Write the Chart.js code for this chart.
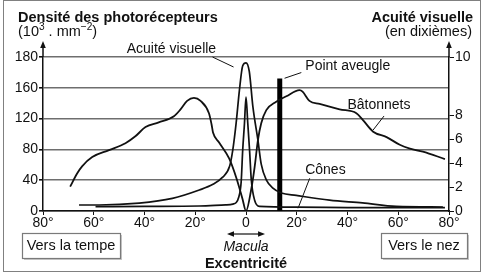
<!DOCTYPE html>
<html>
<head>
<meta charset="utf-8">
<script src="https://cdn.jsdelivr.net/npm/chart.js@4.4.1/dist/chart.umd.min.js"></script>
<style>
  html, body { margin: 0; padding: 0; background: #fff; }
  canvas { display: block; }
</style>
</head>
<body>
<canvas id="retine" width="486" height="275"></canvas>
<script>
// excentricité en degrés (négatif = côté tempe)
const angleTicks = [-80, -60, -40, -20, 0, 20, 40, 60, 80];
const densityTicks = [0, 40, 80, 120, 160, 180];
const acuityTicks = [0, 2, 4, 6, 8, 10];

// bâtonnets (10^3 . mm-2)
const rodsX = [-69.3, -66.5, -64.6, -60.6, -54, -47.5, -43.6, -39.6, -34.4, -28.4, -25.8, -23.2, -20.5, -17.9,
  -14.6, -13.6, -13, -10.6, -6.6, -3.7, -1.4, 0, 2, 3.4, 4.7, 6, 8, 11.9, 15.9, 21.1, 22.3, 25, 29, 36.9,
  43.5, 46.1, 50.1, 55.4, 60.6, 64.6, 69.7, 78.4];
const rodsY = [31.6, 49, 58, 70, 79, 88, 97, 109, 115, 123, 132, 143, 147, 143,
  127, 113, 102, 89, 68, 42, 16, 0, 27, 57, 92, 114, 131, 142, 149, 157, 155, 143, 139, 132,
  127, 118, 103, 96, 86, 81, 77, 67.5];

// cônes (10^3 . mm-2)
const conesX = [-59.3, -40, -18.4, -8, -5.2, -2.8, -1.9, -1.3, -0.6, 0, 0.7, 1.4, 2.1, 3.4, 5.3, 20, 40, 60, 78.4];
const conesY = [5.6, 6, 6.5, 8, 9, 18.6, 38, 79, 114, 148, 114, 79, 40, 14, 6, 5, 4.5, 4.3, 4.3];

// acuité visuelle (dixièmes)
const acuityX = [-65.8, -57.9, -42.1, -29, -18.4, -13.2, -9.3, -6.5, -5.2, -3.9, -2.6, -1.3, 0, 1.3, 2.7, 4.7,
  6, 8, 10.6, 13.9, 19.8, 32.9, 45.9, 59.2, 77.6];
const acuityY = [0.5, 0.5, 0.65, 1.05, 1.75, 2.2, 2.8, 3.7, 5.1, 7.3, 8.85, 9.7, 9.8, 9.5, 8.3, 5.9,
  3.9, 2.6, 1.9, 1.5, 1.3, 0.9, 0.67, 0.38, 0.33];

// point aveugle
const blindSpotX = 13.3;
const blindSpotTop = 166;

const toPts = (xs, ys) => xs.map((x, i) => ({ x: x, y: ys[i] }));

// les deux axes verticaux du document sont coupés en haut (160 -> 180, 8 -> 10)
const LinearScale = Chart.LinearScale || Chart.scales.LinearScale;
const axisBreaks = { y: { at: 160, frac: 0.8 }, y2: { at: 8, frac: 96 / 154 } };

class BrokenScale extends LinearScale {
  getPixelForValue(value) {
    const b = axisBreaks[this.id];
    let f;
    if (value <= b.at) f = (value - this.min) / (b.at - this.min) * b.frac;
    else f = b.frac + (value - b.at) / (this.max - b.at) * (1 - b.frac);
    return this.getPixelForDecimal(f);
  }
  getValueForPixel(pixel) {
    const b = axisBreaks[this.id];
    const f = this.getDecimalForPixel(pixel);
    if (f <= b.frac) return this.min + f / b.frac * (b.at - this.min);
    return b.at + (f - b.frac) / (1 - b.frac) * (this.max - b.at);
  }
}
BrokenScale.id = 'broken';
BrokenScale.defaults = {};
Chart.register(BrokenScale);

const FONT = "'Liberation Sans', Arial, sans-serif";
const INK = '#111';

// textes posés en coordonnées des données (x en degrés, y sur l'axe de densité)
const callouts = [
  { text: 'Acuité visuelle', x: -29.4, y: 185.2, from: [-13.2, 180], to: [-4.9, 173.5] },
  { text: 'Point aveugle', x: 40.1, y: 174.2, from: [21.8, 169.9], to: [15.2, 166.2] },
  { text: 'Bâtonnets', x: 52.4, y: 137, from: [54.4, 123.4], to: [50.1, 105.2] },
  { text: 'Cônes', x: 31.3, y: 52.6, from: [25.1, 42.5], to: [20.5, 3.5] }
];

function drawParts(ctx, parts, x, y, size) {
  let cx = x;
  parts.forEach(p => {
    ctx.font = (p.sup ? (size * 0.7) : size) + 'px ' + FONT;
    ctx.fillText(p.t, cx, p.sup ? y - size * 0.38 : y);
    cx += ctx.measureText(p.t).width;
  });
  return cx - x;
}

function arrowHead(ctx, x, y, dx, dy) {
  // pointe en (x, y), direction (dx, dy)
  const len = 7, half = 2.8;
  const px = -dy, py = dx;
  ctx.beginPath();
  ctx.moveTo(x, y);
  ctx.lineTo(x - dx * len + px * half, y - dy * len + py * half);
  ctx.lineTo(x - dx * len - px * half, y - dy * len - py * half);
  ctx.closePath();
  ctx.fill();
}

const decor = {
  id: 'decor',
  afterDraw(chart) {
    const { ctx, chartArea: a, scales: { x, y } } = chart;
    ctx.save();

    // cadre
    ctx.strokeStyle = '#808080';
    ctx.lineWidth = 1;
    ctx.strokeRect(3.5, 0.5, 477, 271);

    // flèches en haut des axes verticaux
    ctx.strokeStyle = INK;
    ctx.fillStyle = INK;
    ctx.lineWidth = 1.5;
    [a.left, a.right].forEach(ax => {
      ctx.beginPath();
      ctx.moveTo(ax, a.top);
      ctx.lineTo(ax, a.top - 10);
      ctx.stroke();
      arrowHead(ctx, ax, a.top - 16, 0, -1);
    });

    // titres des axes
    ctx.textBaseline = 'alphabetic';
    ctx.textAlign = 'left';
    ctx.font = 'bold 14.5px ' + FONT;
    ctx.fillText('Densité des photorécepteurs', 18, 21.5);
    drawParts(ctx, [{ t: '(10' }, { t: '3', sup: true }, { t: ' . mm' }, { t: '−2', sup: true }, { t: ')' }], 18, 35.5, 14.5);
    ctx.textAlign = 'right';
    ctx.font = 'bold 14.5px ' + FONT;
    ctx.fillText('Acuité visuelle', 473, 21.5);
    ctx.font = '14.5px ' + FONT;
    ctx.fillText('(en dixièmes)', 472, 35.5);

    // légendes fléchées
    ctx.textAlign = 'center';
    ctx.textBaseline = 'middle';
    ctx.font = '14px ' + FONT;
    ctx.lineWidth = 1;
    callouts.forEach(c => {
      ctx.fillText(c.text, x.getPixelForValue(c.x), y.getPixelForValue(c.y));
      ctx.beginPath();
      ctx.moveTo(x.getPixelForValue(c.from[0]), y.getPixelForValue(c.from[1]));
      ctx.lineTo(x.getPixelForValue(c.to[0]), y.getPixelForValue(c.to[1]));
      ctx.stroke();
    });

    // macula
    const ml = x.getPixelForValue(-7.5), mr = x.getPixelForValue(7.5), ay = 234;
    ctx.lineWidth = 1.2;
    ctx.beginPath();
    ctx.moveTo(ml + 4, ay);
    ctx.lineTo(mr - 4, ay);
    ctx.stroke();
    arrowHead(ctx, ml, ay, -1, 0);
    arrowHead(ctx, mr, ay, 1, 0);
    const cx0 = x.getPixelForValue(0);
    ctx.font = 'italic 14px ' + FONT;
    ctx.fillText('Macula', cx0, 247);
    ctx.font = 'bold 14.5px ' + FONT;
    ctx.fillText('Excentricité', cx0, 264);

    // cadres "vers la tempe" / "vers le nez"
    ctx.font = '14.5px ' + FONT;
    [['Vers la tempe', 22, 98], ['Vers le nez', 381, 86]].forEach(([t, bx, bw]) => {
      ctx.fillStyle = '#c8c8c8';
      ctx.fillRect(bx + 2, 235, bw, 25);
      ctx.fillStyle = '#fff';
      ctx.fillRect(bx, 233, bw, 25);
      ctx.strokeStyle = '#7a7a7a';
      ctx.strokeRect(bx + 0.5, 233.5, bw, 25);
      ctx.fillStyle = INK;
      ctx.fillText(t, bx + bw / 2, 246);
    });

    ctx.restore();
  }
};

new Chart(document.getElementById('retine'), {
  type: 'line',
  data: {
    datasets: [
      {
        label: 'Bâtonnets',
        data: toPts(rodsX, rodsY),
        yAxisID: 'y',
        borderColor: '#111',
        borderWidth: 1.8,
        pointRadius: 0,
        cubicInterpolationMode: 'monotone'
      },
      {
        label: 'Cônes',
        data: toPts(conesX, conesY),
        yAxisID: 'y',
        borderColor: '#111',
        borderWidth: 1.7,
        pointRadius: 0,
        cubicInterpolationMode: 'monotone'
      },
      {
        label: 'Acuité visuelle',
        data: toPts(acuityX, acuityY),
        yAxisID: 'y2',
        borderColor: '#111',
        borderWidth: 1.7,
        pointRadius: 0,
        cubicInterpolationMode: 'monotone'
      },
      {
        label: 'Point aveugle',
        data: [{ x: blindSpotX, y: 0 }, { x: blindSpotX, y: blindSpotTop }],
        yAxisID: 'y',
        borderColor: '#000',
        borderWidth: 5,
        borderCapStyle: 'butt',
        pointRadius: 0
      }
    ]
  },
  options: {
    responsive: false,
    animation: false,
    events: [],
    layout: { padding: { top: 57, left: 0, right: 0, bottom: 0 } },
    plugins: {
      legend: { display: false },
      tooltip: { enabled: false }
    },
    scales: {
      x: {
        type: 'linear',
        min: -80,
        max: 80,
        afterBuildTicks: s => { s.ticks = angleTicks.map(v => ({ value: v })); },
        afterFit: s => { s.height = 64; },
        ticks: {
          padding: 0,
          color: INK,
          font: { family: FONT, size: 14 },
          maxRotation: 0,
          callback: v => v === 0 ? '0' : Math.abs(v) + '°'
        },
        grid: { drawOnChartArea: false, drawTicks: true, tickLength: 4, tickColor: INK },
        border: { display: true, color: INK, width: 1.5 }
      },
      y: {
        type: 'broken',
        position: 'left',
        min: 0,
        max: 180,
        afterBuildTicks: s => { s.ticks = densityTicks.map(v => ({ value: v })); },
        afterFit: s => { s.width = 43; },
        ticks: {
          padding: 1,
          color: INK,
          font: { family: FONT, size: 14 },
          callback: v => String(v)
        },
        grid: { color: '#6e6e6e', lineWidth: 1.6, drawTicks: true, tickLength: 4, tickColor: INK },
        border: { display: true, color: INK, width: 1.5 }
      },
      y2: {
        type: 'broken',
        position: 'right',
        min: 0,
        max: 10,
        afterBuildTicks: s => { s.ticks = acuityTicks.map(v => ({ value: v })); },
        afterFit: s => { s.width = 37; },
        ticks: {
          padding: 1,
          color: INK,
          font: { family: FONT, size: 14 },
          callback: v => String(v)
        },
        grid: { drawOnChartArea: false, drawTicks: true, tickLength: 5, tickColor: INK },
        border: { display: true, color: INK, width: 1.5 }
      }
    }
  },
  plugins: [decor]
});
</script>
</body>
</html>
